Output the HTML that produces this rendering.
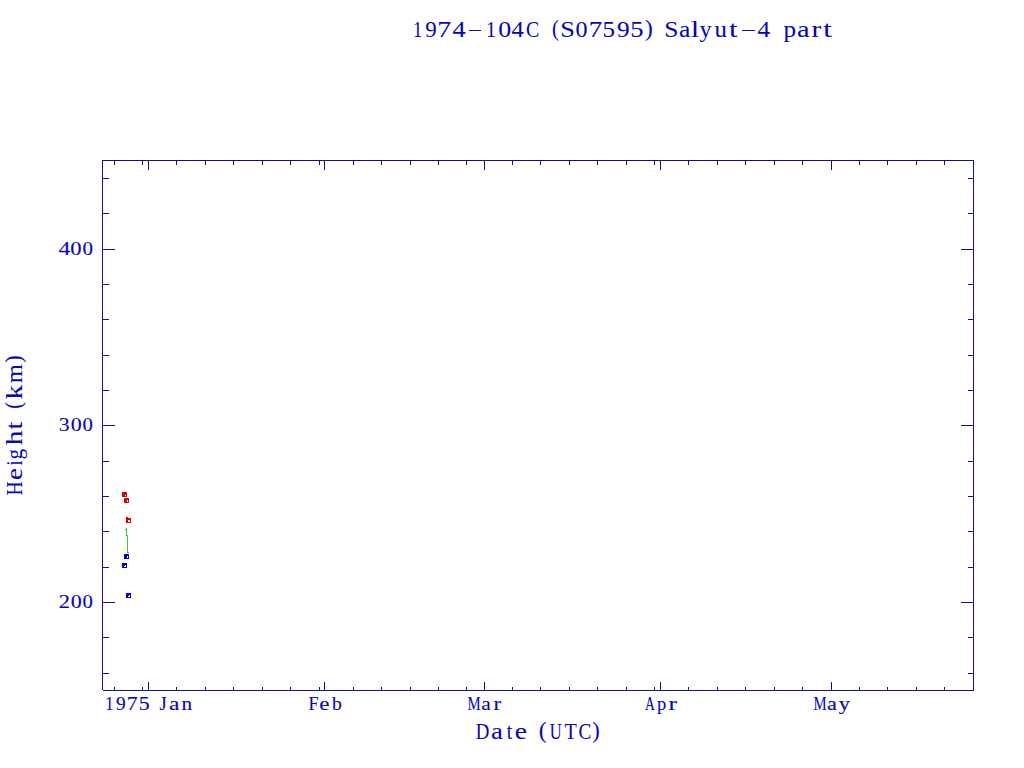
<!DOCTYPE html>
<html><head><meta charset="utf-8"><style>
html,body{margin:0;padding:0;background:#fff;}
svg{display:block;}
text{font-family:"Liberation Serif",serif;fill:#0606b8;stroke:#0606b8;stroke-width:0.06px;}
text.s{stroke-width:0.12px;}
</style></head><body>
<svg width="1024" height="768" viewBox="0 0 1024 768">
<rect x="0" y="0" width="1024" height="768" fill="#fff"/>
<g shape-rendering="crispEdges">
<rect x="102" y="160" width="872" height="1" fill="#10108f"/>
<rect x="103" y="690" width="871" height="1" fill="#10108f"/>
<rect x="102" y="160" width="1" height="530" fill="#10108f"/>
<rect x="973" y="160" width="1" height="531" fill="#10108f"/>
<rect x="114" y="687" width="1" height="4" fill="#10108f"/>
<rect x="114" y="160" width="1" height="5" fill="#10108f"/>
<rect x="142" y="687" width="1" height="4" fill="#10108f"/>
<rect x="142" y="160" width="1" height="5" fill="#10108f"/>
<rect x="148" y="682" width="1" height="9" fill="#10108f"/>
<rect x="148" y="160" width="1" height="10" fill="#10108f"/>
<rect x="176" y="687" width="1" height="4" fill="#10108f"/>
<rect x="176" y="160" width="1" height="5" fill="#10108f"/>
<rect x="205" y="687" width="1" height="4" fill="#10108f"/>
<rect x="205" y="160" width="1" height="5" fill="#10108f"/>
<rect x="233" y="687" width="1" height="4" fill="#10108f"/>
<rect x="233" y="160" width="1" height="5" fill="#10108f"/>
<rect x="262" y="687" width="1" height="4" fill="#10108f"/>
<rect x="262" y="160" width="1" height="5" fill="#10108f"/>
<rect x="290" y="687" width="1" height="4" fill="#10108f"/>
<rect x="290" y="160" width="1" height="5" fill="#10108f"/>
<rect x="319" y="687" width="1" height="4" fill="#10108f"/>
<rect x="319" y="160" width="1" height="5" fill="#10108f"/>
<rect x="324" y="682" width="1" height="9" fill="#10108f"/>
<rect x="324" y="160" width="1" height="10" fill="#10108f"/>
<rect x="353" y="687" width="1" height="4" fill="#10108f"/>
<rect x="353" y="160" width="1" height="5" fill="#10108f"/>
<rect x="381" y="687" width="1" height="4" fill="#10108f"/>
<rect x="381" y="160" width="1" height="5" fill="#10108f"/>
<rect x="410" y="687" width="1" height="4" fill="#10108f"/>
<rect x="410" y="160" width="1" height="5" fill="#10108f"/>
<rect x="438" y="687" width="1" height="4" fill="#10108f"/>
<rect x="438" y="160" width="1" height="5" fill="#10108f"/>
<rect x="466" y="687" width="1" height="4" fill="#10108f"/>
<rect x="466" y="160" width="1" height="5" fill="#10108f"/>
<rect x="484" y="682" width="1" height="9" fill="#10108f"/>
<rect x="484" y="160" width="1" height="10" fill="#10108f"/>
<rect x="512" y="687" width="1" height="4" fill="#10108f"/>
<rect x="512" y="160" width="1" height="5" fill="#10108f"/>
<rect x="540" y="687" width="1" height="4" fill="#10108f"/>
<rect x="540" y="160" width="1" height="5" fill="#10108f"/>
<rect x="569" y="687" width="1" height="4" fill="#10108f"/>
<rect x="569" y="160" width="1" height="5" fill="#10108f"/>
<rect x="597" y="687" width="1" height="4" fill="#10108f"/>
<rect x="597" y="160" width="1" height="5" fill="#10108f"/>
<rect x="626" y="687" width="1" height="4" fill="#10108f"/>
<rect x="626" y="160" width="1" height="5" fill="#10108f"/>
<rect x="654" y="687" width="1" height="4" fill="#10108f"/>
<rect x="654" y="160" width="1" height="5" fill="#10108f"/>
<rect x="660" y="682" width="1" height="9" fill="#10108f"/>
<rect x="660" y="160" width="1" height="10" fill="#10108f"/>
<rect x="688" y="687" width="1" height="4" fill="#10108f"/>
<rect x="688" y="160" width="1" height="5" fill="#10108f"/>
<rect x="717" y="687" width="1" height="4" fill="#10108f"/>
<rect x="717" y="160" width="1" height="5" fill="#10108f"/>
<rect x="745" y="687" width="1" height="4" fill="#10108f"/>
<rect x="745" y="160" width="1" height="5" fill="#10108f"/>
<rect x="774" y="687" width="1" height="4" fill="#10108f"/>
<rect x="774" y="160" width="1" height="5" fill="#10108f"/>
<rect x="802" y="687" width="1" height="4" fill="#10108f"/>
<rect x="802" y="160" width="1" height="5" fill="#10108f"/>
<rect x="831" y="682" width="1" height="9" fill="#10108f"/>
<rect x="831" y="160" width="1" height="10" fill="#10108f"/>
<rect x="859" y="687" width="1" height="4" fill="#10108f"/>
<rect x="859" y="160" width="1" height="5" fill="#10108f"/>
<rect x="887" y="687" width="1" height="4" fill="#10108f"/>
<rect x="887" y="160" width="1" height="5" fill="#10108f"/>
<rect x="916" y="687" width="1" height="4" fill="#10108f"/>
<rect x="916" y="160" width="1" height="5" fill="#10108f"/>
<rect x="944" y="687" width="1" height="4" fill="#10108f"/>
<rect x="944" y="160" width="1" height="5" fill="#10108f"/>
<rect x="102" y="673" width="7" height="1" fill="#10108f"/>
<rect x="968" y="673" width="6" height="1" fill="#10108f"/>
<rect x="102" y="637" width="7" height="1" fill="#10108f"/>
<rect x="968" y="637" width="6" height="1" fill="#10108f"/>
<rect x="102" y="602" width="13" height="1" fill="#10108f"/>
<rect x="961" y="602" width="13" height="1" fill="#10108f"/>
<rect x="102" y="567" width="7" height="1" fill="#10108f"/>
<rect x="968" y="567" width="6" height="1" fill="#10108f"/>
<rect x="102" y="531" width="7" height="1" fill="#10108f"/>
<rect x="968" y="531" width="6" height="1" fill="#10108f"/>
<rect x="102" y="496" width="7" height="1" fill="#10108f"/>
<rect x="968" y="496" width="6" height="1" fill="#10108f"/>
<rect x="102" y="461" width="7" height="1" fill="#10108f"/>
<rect x="968" y="461" width="6" height="1" fill="#10108f"/>
<rect x="102" y="425" width="13" height="1" fill="#10108f"/>
<rect x="961" y="425" width="13" height="1" fill="#10108f"/>
<rect x="102" y="390" width="7" height="1" fill="#10108f"/>
<rect x="968" y="390" width="6" height="1" fill="#10108f"/>
<rect x="102" y="355" width="7" height="1" fill="#10108f"/>
<rect x="968" y="355" width="6" height="1" fill="#10108f"/>
<rect x="102" y="319" width="7" height="1" fill="#10108f"/>
<rect x="968" y="319" width="6" height="1" fill="#10108f"/>
<rect x="102" y="284" width="7" height="1" fill="#10108f"/>
<rect x="968" y="284" width="6" height="1" fill="#10108f"/>
<rect x="102" y="249" width="13" height="1" fill="#10108f"/>
<rect x="961" y="249" width="13" height="1" fill="#10108f"/>
<rect x="102" y="213" width="7" height="1" fill="#10108f"/>
<rect x="968" y="213" width="6" height="1" fill="#10108f"/>
<rect x="102" y="178" width="7" height="1" fill="#10108f"/>
<rect x="968" y="178" width="6" height="1" fill="#10108f"/>
<rect x="469" y="30" width="12" height="1" fill="#10108f"/>
<rect x="742" y="30" width="13" height="1" fill="#10108f"/>
</g>
<text transform="translate(417.75,37) scale(0.782,1)" x="-6.23" font-size="23.6">1</text>
<text transform="translate(431.00,37) scale(0.973,1)" x="-5.80" font-size="23.6">9</text>
<text transform="translate(444.60,37) scale(1.171,1)" x="-6.34" font-size="23.6">7</text>
<text transform="translate(459.10,37) scale(1.112,1)" x="-5.95" font-size="23.6">4</text>
<text transform="translate(491.30,37) scale(0.843,1)" x="-6.23" font-size="23.6">1</text>
<text transform="translate(504.60,37) scale(1.100,1)" x="-5.90" font-size="23.6">0</text>
<text transform="translate(517.70,37) scale(1.039,1)" x="-5.95" font-size="23.6">4</text>
<text transform="translate(532.55,37) scale(0.839,1)" x="-7.70" font-size="23.6">C</text>
<text transform="translate(555.45,37) scale(0.874,1)" x="-4.07" y="-1.2" font-size="23.6">(</text>
<text transform="translate(567.60,37) scale(1.111,1)" x="-6.62" font-size="23.6">S</text>
<text transform="translate(581.60,37) scale(1.020,1)" x="-5.90" font-size="23.6">0</text>
<text transform="translate(595.80,37) scale(1.129,1)" x="-6.34" font-size="23.6">7</text>
<text transform="translate(608.95,37) scale(1.062,1)" x="-6.12" font-size="23.6">5</text>
<text transform="translate(623.20,37) scale(1.072,1)" x="-5.80" font-size="23.6">9</text>
<text transform="translate(637.15,37) scale(1.126,1)" x="-6.12" font-size="23.6">5</text>
<text transform="translate(648.70,37) scale(0.990,1)" x="-3.79" y="-1.2" font-size="23.6">)</text>
<text transform="translate(671.35,37) scale(1.081,1)" x="-6.62" font-size="23.6">S</text>
<text transform="translate(684.95,37) scale(1.083,1)" x="-5.49" font-size="23.6">a</text>
<text transform="translate(695.12,37) scale(1.300,1)" x="-3.28" font-size="23.6">l</text>
<text transform="translate(705.70,37) scale(1.033,1)" x="-6.00" font-size="23.6">y</text>
<text transform="translate(720.55,37) scale(1.055,1)" x="-5.85" font-size="23.6">u</text>
<text transform="translate(733.38,37) scale(1.300,1)" x="-3.32" font-size="23.6">t</text>
<text transform="translate(763.85,37) scale(1.067,1)" x="-5.95" font-size="23.6">4</text>
<text transform="translate(789.40,37) scale(1.067,1)" x="-5.63" font-size="23.6">p</text>
<text transform="translate(803.60,37) scale(1.201,1)" x="-5.49" font-size="23.6">a</text>
<text transform="translate(816.55,37) scale(1.240,1)" x="-4.06" font-size="23.6">r</text>
<text transform="translate(827.55,37) scale(1.300,1)" x="-3.32" font-size="23.6">t</text>
<text class="s" transform="translate(64.50,255) scale(1.201,1)" x="-4.96" font-size="19.7">4</text>
<text class="s" transform="translate(76.00,255) scale(1.150,1)" x="-4.92" font-size="19.7">0</text>
<text class="s" transform="translate(87.65,255) scale(1.066,1)" x="-4.92" font-size="19.7">0</text>
<text class="s" transform="translate(64.30,431) scale(1.106,1)" x="-5.01" font-size="19.7">3</text>
<text class="s" transform="translate(76.15,431) scale(1.114,1)" x="-4.92" font-size="19.7">0</text>
<text class="s" transform="translate(87.60,431) scale(1.054,1)" x="-4.92" font-size="19.7">0</text>
<text class="s" transform="translate(64.30,608) scale(1.140,1)" x="-4.81" font-size="19.7">2</text>
<text class="s" transform="translate(76.15,608) scale(1.114,1)" x="-4.92" font-size="19.7">0</text>
<text class="s" transform="translate(87.60,608) scale(1.054,1)" x="-4.92" font-size="19.7">0</text>
<text class="s" transform="translate(109.75,710) scale(0.851,1)" x="-5.20" font-size="19.7">1</text>
<text class="s" transform="translate(120.75,710) scale(0.987,1)" x="-4.84" font-size="19.7">9</text>
<text class="s" transform="translate(132.70,710) scale(1.102,1)" x="-5.29" font-size="19.7">7</text>
<text class="s" transform="translate(144.40,710) scale(1.109,1)" x="-5.11" font-size="19.7">5</text>
<text class="s" transform="translate(163.20,710) scale(0.936,1)" x="-3.83" font-size="19.7">J</text>
<text class="s" transform="translate(174.45,710) scale(1.195,1)" x="-4.58" font-size="19.7">a</text>
<text class="s" transform="translate(186.90,710) scale(1.077,1)" x="-5.00" font-size="19.7">n</text>
<text class="s" transform="translate(313.50,710) scale(0.909,1)" x="-5.41" font-size="19.7">F</text>
<text class="s" transform="translate(324.45,710) scale(1.166,1)" x="-4.42" font-size="19.7">e</text>
<text class="s" transform="translate(336.45,710) scale(1.000,1)" x="-4.55" font-size="19.7">b</text>
<text class="s" transform="translate(474.05,710) scale(0.751,1)" x="-8.75" font-size="19.7">M</text>
<text class="s" transform="translate(486.25,710) scale(1.092,1)" x="-4.58" font-size="19.7">a</text>
<text class="s" transform="translate(497.50,710) scale(1.168,1)" x="-3.39" font-size="19.7">r</text>
<text class="s" transform="translate(649.80,710) scale(0.691,1)" x="-7.14" font-size="19.7">A</text>
<text class="s" transform="translate(661.40,710) scale(0.936,1)" x="-4.70" font-size="19.7">p</text>
<text class="s" transform="translate(672.95,710) scale(1.300,1)" x="-3.39" font-size="19.7">r</text>
<text class="s" transform="translate(819.95,710) scale(0.751,1)" x="-8.75" font-size="19.7">M</text>
<text class="s" transform="translate(832.20,710) scale(1.131,1)" x="-4.58" font-size="19.7">a</text>
<text class="s" transform="translate(844.40,710) scale(1.133,1)" x="-5.01" font-size="19.7">y</text>
<text transform="translate(482.35,739) scale(0.798,1)" x="-8.39" font-size="23.6">D</text>
<text transform="translate(497.20,739) scale(1.137,1)" x="-5.49" font-size="23.6">a</text>
<text transform="translate(509.45,739) scale(0.824,1)" x="-3.32" font-size="23.6">t</text>
<text transform="translate(520.90,739) scale(1.168,1)" x="-5.29" font-size="23.6">e</text>
<text transform="translate(542.95,739) scale(1.006,1)" x="-4.07" y="-1.2" font-size="23.6">(</text>
<text transform="translate(555.80,739) scale(0.698,1)" x="-8.52" font-size="23.6">U</text>
<text transform="translate(570.70,739) scale(0.853,1)" x="-7.23" font-size="23.6">T</text>
<text transform="translate(584.70,739) scale(0.817,1)" x="-7.70" font-size="23.6">C</text>
<text transform="translate(595.80,739) scale(0.957,1)" x="-3.79" y="-1.2" font-size="23.6">)</text>
<text transform="translate(22,488.50) rotate(-90) scale(0.830,1)" x="-8.52" font-size="23.6">H</text>
<text transform="translate(22,473.95) rotate(-90) scale(1.133,1)" x="-5.29" font-size="23.6">e</text>
<text transform="translate(22,462.90) rotate(-90) scale(0.677,1)" x="-3.30" font-size="23.6">i</text>
<text transform="translate(22,453.85) rotate(-90) scale(0.900,1)" x="-6.18" font-size="23.6">g</text>
<text transform="translate(22,437.95) rotate(-90) scale(1.252,1)" x="-5.86" font-size="23.6">h</text>
<text transform="translate(22,425.60) rotate(-90) scale(1.196,1)" x="-3.32" font-size="23.6">t</text>
<text transform="translate(22,405.20) rotate(-90) scale(0.858,1)" x="-4.07" y="-1.2" font-size="23.6">(</text>
<text transform="translate(22,391.95) rotate(-90) scale(1.242,1)" x="-6.12" font-size="23.6">k</text>
<text transform="translate(22,373.70) rotate(-90) scale(1.040,1)" x="-9.24" font-size="23.6">m</text>
<text transform="translate(22,359.12) rotate(-90) scale(0.949,1)" x="-3.79" y="-1.2" font-size="23.6">)</text>
<g shape-rendering="crispEdges">
<rect x="122" y="492" width="5" height="5" fill="#e00000"/>
<rect x="125" y="495" width="1" height="1" fill="#fff"/>
<rect x="124" y="498" width="5" height="5" fill="#e00000"/>
<rect x="127" y="500" width="1" height="2" fill="#fff"/>
<rect x="126" y="518" width="5" height="5" fill="#e00000"/>
<rect x="126" y="517" width="2" height="1" fill="#e00000"/>
<rect x="128" y="520" width="2" height="2" fill="#fff"/>
<rect x="124" y="554" width="5" height="5" fill="#0000d8"/>
<rect x="127" y="556" width="1" height="2" fill="#fff"/>
<rect x="122" y="563" width="5" height="5" fill="#0000d8"/>
<rect x="125" y="565" width="1" height="2" fill="#fff"/><rect x="124" y="566" width="1" height="1" fill="#fff"/>
<rect x="126" y="593" width="5" height="5" fill="#0000d8"/>
<rect x="129" y="595" width="1" height="2" fill="#fff"/><rect x="128" y="596" width="1" height="1" fill="#fff"/>
</g>
<g shape-rendering="crispEdges" fill="#48c048">
<rect x="125" y="529" width="1" height="1"/>
<rect x="126" y="528" width="1" height="8"/>
<rect x="127" y="535" width="1" height="18"/>
<rect x="128" y="552" width="1" height="1"/>
</g>
</svg>
</body></html>
